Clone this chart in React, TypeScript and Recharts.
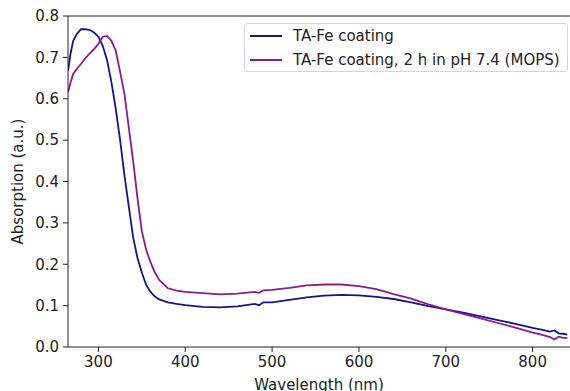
import React from "react";
import { LineChart, Line, XAxis, YAxis, ReferenceLine } from "recharts";

// wavelength (nm)
const wavelengths = [
  265, 268, 271, 275, 280, 285, 290, 295, 300, 305, 310, 315, 320, 325, 330, 335, 340, 345, 350, 355, 360,
  365, 370, 380, 390, 400, 420, 440, 460, 480, 485, 490, 500, 520, 540, 560, 580, 600, 620, 640, 660,
  680, 700, 720, 740, 760, 780, 800, 810, 820, 825, 830, 835, 840,
];

// TA-Fe coating
const coating = [
  0.667, 0.71, 0.74, 0.756, 0.768, 0.768, 0.766, 0.76, 0.75, 0.728, 0.693, 0.64, 0.575, 0.5, 0.415, 0.34,
  0.265, 0.215, 0.18, 0.15, 0.133, 0.122, 0.115, 0.108, 0.104, 0.101, 0.097, 0.096, 0.098, 0.104, 0.101,
  0.108, 0.108, 0.114, 0.12, 0.124, 0.126, 0.125, 0.121, 0.116, 0.108, 0.099, 0.091, 0.083, 0.074, 0.065,
  0.056, 0.046, 0.042, 0.037, 0.04, 0.033, 0.032, 0.03,
];

// TA-Fe coating, 2 h in pH 7.4 (MOPS)
const mops = [
  0.615, 0.64, 0.66, 0.672, 0.684, 0.698, 0.709, 0.72, 0.733, 0.75, 0.752, 0.74, 0.716, 0.665, 0.612, 0.53,
  0.45, 0.36, 0.28, 0.235, 0.205, 0.18, 0.162, 0.142, 0.136, 0.133, 0.13, 0.127, 0.129, 0.133, 0.131,
  0.137, 0.138, 0.143, 0.149, 0.151, 0.151, 0.147, 0.14, 0.128, 0.117, 0.103, 0.091, 0.08, 0.069, 0.058,
  0.047, 0.035, 0.03, 0.024, 0.018, 0.025, 0.022, 0.022,
];

const xTicks = [300, 400, 500, 600, 700, 800];
const yTicks = [0, 0.1, 0.2, 0.3, 0.4, 0.5, 0.6, 0.7, 0.8];

const BLUE = "#14148c";
const PURPLE = "#8b1a8b";
const FONT = "DejaVu Sans, sans-serif";
const FS = 15;

const data = wavelengths.map((w, i) => ({ w, coating: coating[i], mops: mops[i] }));

export default function App() {
  const tick = { fontSize: FS, fill: "#222", fontFamily: FONT };
  return (
    <div style={{ position: "absolute", left: 0, top: 0, width: 570, height: 391, overflow: "hidden", background: "#fff" }}>
      <LineChart width={570} height={391} data={data} margin={{ top: 16, right: 0, left: 18, bottom: 0 }}>
        <XAxis
          dataKey="w"
          type="number"
          domain={[265, 843]}
          ticks={xTicks}
          allowDataOverflow
          tick={tick}
          tickSize={5}
          tickMargin={4}
          stroke="#222"
          height={44}
          label={{ value: "Wavelength (nm)", position: "insideBottom", offset: 1, style: { fontSize: FS, fill: "#222", fontFamily: FONT } }}
        />
        <YAxis
          type="number"
          domain={[0, 0.8]}
          ticks={yTicks}
          tickFormatter={(v: number) => v.toFixed(1)}
          tick={tick}
          tickSize={5}
          tickMargin={4}
          stroke="#222"
          width={50}
          label={{ value: "Absorption (a.u.)", angle: -90, position: "insideLeft", offset: 0, style: { fontSize: FS, fill: "#222", fontFamily: FONT, textAnchor: "middle" } }}
        />
        <ReferenceLine y={0.8} stroke="#222" strokeWidth={1} />
        <Line dataKey="coating" stroke={BLUE} strokeWidth={1.8} dot={false} isAnimationActive={false} />
        <Line dataKey="mops" stroke={PURPLE} strokeWidth={1.8} dot={false} isAnimationActive={false} />
      </LineChart>
      <div
        style={{
          position: "absolute",
          left: 244,
          top: 23,
          width: 324,
          height: 49,
          border: "1px solid #d6d6d6",
          borderRadius: 3,
          background: "rgba(255,255,255,0.8)",
          boxSizing: "border-box",
          fontFamily: FONT,
          fontSize: FS,
          color: "#222",
        }}
      >
        {[
          { name: "TA-Fe coating", color: BLUE },
          { name: "TA-Fe coating, 2 h in pH 7.4 (MOPS)", color: PURPLE },
        ].map((e, i) => (
          <div key={i} style={{ position: "absolute", left: 5, top: 2 + i * 24, height: 20, display: "flex", alignItems: "center", whiteSpace: "nowrap" }}>
            <span style={{ display: "inline-block", width: 32, height: 2, background: e.color, marginRight: 11 }} />
            <span>{e.name}</span>
          </div>
        ))}
      </div>
    </div>
  );
}
